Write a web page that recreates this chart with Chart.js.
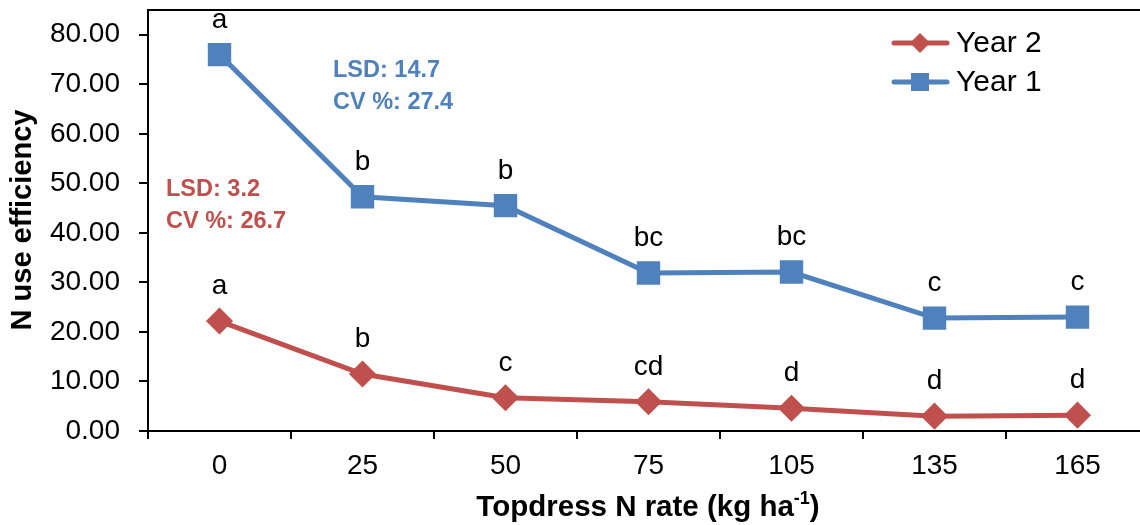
<!DOCTYPE html>
<html>
<head>
<meta charset="utf-8">
<script src="https://cdn.jsdelivr.net/npm/chart.js@4"></script>
<style>
  html, body { margin: 0; padding: 0; background: #fff; overflow: hidden; }
  #wrap { width: 1150px; height: 525px; }
</style>
</head>
<body>
<div id="wrap"><canvas id="chart" width="1150" height="525"></canvas></div>
<script>
// N use efficiency vs topdress N rate
const rates = ['0', '25', '50', '75', '105', '135', '165'];
const year1 = [76.0, 47.3, 45.5, 31.9, 32.1, 22.8, 23.0];
const year2 = [22.2, 11.5, 6.7, 5.9, 4.6, 3.0, 3.2];
const year1Letters = ['a', 'b', 'b', 'bc', 'bc', 'c', 'c'];
const year2Letters = ['a', 'b', 'c', 'cd', 'd', 'd', 'd'];
const yTicks = [0, 10, 20, 30, 40, 50, 60, 70, 80];

const BLUE = '#4F81BD';
const RED = '#C0504D';
const FONT = '"Liberation Sans", Arial, sans-serif';

const annotations = {
  id: 'annotations',
  afterDatasetsDraw(chart) {
    const ctx = chart.ctx;
    const area = chart.chartArea;
    const x = chart.scales.x, y = chart.scales.y;

    // plot border
    ctx.save();
    ctx.strokeStyle = '#000';
    ctx.lineWidth = 2;
    ctx.strokeRect(area.left, area.top, area.right - area.left, area.bottom - area.top);

    // significance letters
    ctx.fillStyle = '#000';
    ctx.font = '28px ' + FONT;
    ctx.textAlign = 'center';
    ctx.textBaseline = 'alphabetic';
    const sets = [[year1, year1Letters], [year2, year2Letters]];
    sets.forEach(([vals, letters]) => {
      vals.forEach((v, i) => {
        ctx.fillText(letters[i], x.getPixelForValue(i), y.getPixelForValue(v) - 27);
      });
    });

    // LSD / CV notes
    ctx.font = 'bold 23.5px ' + FONT;
    ctx.textAlign = 'left';
    ctx.fillStyle = BLUE;
    ctx.fillText('LSD: 14.7', 333, 77);
    ctx.fillText('CV %: 27.4', 333, 109);
    ctx.fillStyle = RED;
    ctx.fillText('LSD: 3.2', 166, 196);
    ctx.fillText('CV %: 26.7', 166, 228);

    // legend
    const items = [[chart.data.datasets[1], 43], [chart.data.datasets[0], 82]];
    items.forEach(([ds, ly]) => {
      ctx.strokeStyle = ds.borderColor;
      ctx.lineWidth = 5;
      ctx.lineCap = 'round';
      ctx.beginPath();
      ctx.moveTo(894, ly);
      ctx.lineTo(947, ly);
      ctx.stroke();
      ctx.fillStyle = ds.borderColor;
      if (ds.pointStyle === 'rect') {
        ctx.fillRect(911, ly - 9, 18, 18);
      } else {
        ctx.beginPath();
        ctx.moveTo(920, ly - 10);
        ctx.lineTo(930, ly);
        ctx.lineTo(920, ly + 10);
        ctx.lineTo(910, ly);
        ctx.closePath();
        ctx.fill();
      }
      ctx.fillStyle = '#000';
      ctx.font = '30px ' + FONT;
      ctx.textBaseline = 'middle';
      ctx.fillText(ds.label, 956, ly + 1);
    });

    // x axis title with superscript
    ctx.textBaseline = 'alphabetic';
    const main = 'Topdress N rate (kg ha';
    ctx.font = 'bold 29.5px ' + FONT;
    const w1 = ctx.measureText(main).width;
    ctx.font = 'bold 18px ' + FONT;
    const w2 = ctx.measureText('-1').width;
    ctx.font = 'bold 29.5px ' + FONT;
    const w3 = ctx.measureText(')').width;
    const tx = 648 - (w1 + w2 + w3) / 2;
    const ty = 516;
    ctx.fillText(main, tx, ty);
    ctx.font = 'bold 18px ' + FONT;
    ctx.fillText('-1', tx + w1, ty - 12);
    ctx.font = 'bold 29.5px ' + FONT;
    ctx.fillText(')', tx + w1 + w2, ty);

    // y axis title
    ctx.font = 'bold 29px ' + FONT;
    ctx.translate(31, 220);
    ctx.rotate(-Math.PI / 2);
    ctx.textAlign = 'center';
    ctx.fillText('N use efficiency', 0, 0);
    ctx.restore();
  }
};

new Chart(document.getElementById('chart'), {
  type: 'line',
  data: {
    labels: rates,
    datasets: [
      {
        label: 'Year 1',
        data: year1,
        borderColor: BLUE,
        backgroundColor: BLUE,
        borderWidth: 5,
        pointStyle: 'rect',
        pointRadius: 13,
        pointHoverRadius: 13,
        tension: 0
      },
      {
        label: 'Year 2',
        data: year2,
        borderColor: RED,
        backgroundColor: RED,
        borderWidth: 5,
        pointStyle: 'rectRot',
        pointRadius: 10,
        pointHoverRadius: 10,
        tension: 0
      }
    ]
  },
  options: {
    responsive: false,
    animation: false,
    layout: { autoPadding: false, padding: { top: 10, right: 1, left: 0, bottom: 0 } },
    plugins: {
      legend: { display: false },
      tooltip: { enabled: false }
    },
    scales: {
      x: {
        type: 'category',
        offset: true,
        border: { color: '#000', width: 2 },
        grid: { offset: true, drawOnChartArea: false, drawTicks: true, tickLength: 8, color: '#000', lineWidth: 2 },
        ticks: { color: '#000', font: { family: FONT, size: 28 }, padding: 10, maxRotation: 0 },
        afterFit(scale) {
          scale.height = 94;
          scale.paddingLeft = 0;
          scale.paddingRight = 0;
        }
      },
      y: {
        min: 0,
        max: 85,
        border: { color: '#000', width: 2 },
        grid: { drawOnChartArea: false, drawTicks: true, tickLength: 9, color: '#000', lineWidth: 2 },
        ticks: {
          stepSize: 10,
          color: '#000',
          font: { family: FONT, size: 28 },
          padding: 19,
          callback: v => v.toFixed(2)
        },
        afterBuildTicks(scale) {
          scale.ticks = yTicks.map(v => ({ value: v }));
        },
        afterFit(scale) {
          scale.width = 148;
          scale.paddingTop = 0;
          scale.paddingBottom = 0;
        }
      }
    }
  },
  plugins: [annotations]
});
</script>
</body>
</html>
